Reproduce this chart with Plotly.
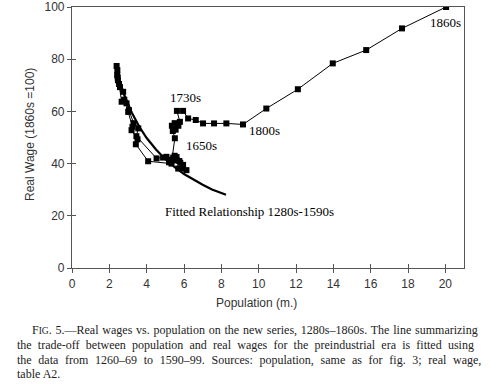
import plotly.graph_objects as go

# Decades 1280s-1860s: population (millions) and real wage (1860s = 100)
decades = [f"{y}s" for y in range(1280, 1870, 10)]
population = [
    5.69, 5.95, 6.13, 5.80, 5.42, 5.62, 5.33, 4.08, 3.42, 3.51,
    3.19, 3.24, 3.01, 2.74, 2.57, 2.46, 2.42, 2.39, 2.43, 2.45,
    2.52, 2.66, 2.80, 2.92, 3.05, 3.30, 3.55, 3.45, 4.53, 4.88,
    5.06, 5.20,
    5.50, 5.75, 5.95, 5.60, 5.35, 5.51, 5.40, 5.35, 5.50, 5.42,
    5.55, 5.70, 5.78, 5.62, 5.95, 6.22, 6.63, 7.02, 7.61, 8.27,
    9.16, 10.41, 12.10, 13.97, 15.76, 17.68, 20.04,
]
real_wage = [
    38.1, 38.1, 37.5, 40.3, 42.3, 41.2, 40.0, 40.9, 47.4, 49.3,
    52.8, 54.1, 59.8, 67.5, 69.3, 71.9, 73.9, 77.4, 75.8, 73.0,
    70.5, 63.7, 64.5, 63.1, 60.5, 55.5, 53.5, 50.5, 42.0, 42.3,
    42.6, 40.5,
    43.0, 41.0, 39.5, 42.5, 41.5, 49.7, 52.5, 54.5, 55.5, 53.5,
    53.0, 54.5, 56.0, 60.2, 60.2, 57.3, 56.7, 55.4, 55.4, 55.4,
    55.0, 61.1, 68.5, 78.4, 83.5, 91.8, 100.0,
]

# Fitted relationship 1280s-1590s
fit_population = [2.35, 2.8, 3.2, 3.6, 4.0, 4.5, 5.0, 5.5, 6.0, 6.5, 7.0, 7.5, 8.25]
fit_wage = [76.0, 66.3, 59.6, 54.2, 49.8, 45.4, 41.7, 38.6, 36.0, 33.8, 31.9, 30.1, 28.1]

x_ticks = list(range(0, 21, 2))
y_ticks = list(range(0, 101, 20))

caption_lines = [
    "F<span style='font-size:9.5px'>IG</span>. 5.—Real wages vs. population on the new series, 1280s–1860s. The line summarizing",
    "the trade-off between population and real wages for the preindustrial era is fitted using",
    "the data from 1260–69 to 1590–99. Sources: population, same as for fig. 3; real wage,",
    "table A2.",
]
caption_word_spacing = [0.8, 3.2, 3.7, 0]

SERIF = "Liberation Serif, Times New Roman, serif"
SANS = "Liberation Sans, Arial, sans-serif"

W, H = 500, 384
L, R, T, B = 72, 36, 7, 116
PW, PH = W - L - R, H - T - B


def px_to_paper(px, py):
    return (px - L) / PW, (H - B - py) / PH


fig = go.Figure()
fig.add_trace(go.Scatter(
    x=fit_population, y=fit_wage, mode="lines",
    line=dict(color="black", width=2.2), hoverinfo="skip", showlegend=False,
))
fig.add_trace(go.Scatter(
    x=population, y=real_wage, mode="lines+markers", text=decades,
    line=dict(color="black", width=1),
    marker=dict(symbol="square", size=6, color="black"),
    showlegend=False,
))
# invisible trace for the overlay axes (inner half of crossing ticks)
fig.add_trace(go.Scatter(x=[None], y=[None], xaxis="x2", yaxis="y2", showlegend=False))

tick_common = dict(showgrid=False, zeroline=False, tickcolor="#555", tickwidth=1,
                   ticklen=4, automargin=False)

fig.update_layout(
    width=W, height=H,
    margin=dict(l=L, r=R, t=T, b=B, autoexpand=False),
    plot_bgcolor="white", paper_bgcolor="white",
    xaxis=dict(range=[0, 21], tickvals=x_ticks, ticks="outside", mirror=True, showline=True,
               linecolor="#555", linewidth=1.2,
               tickfont=dict(family=SANS, size=12, color="#333"), **tick_common),
    yaxis=dict(range=[0, 100], tickvals=y_ticks, ticks="outside", mirror=True, showline=True,
               linecolor="#555", linewidth=1.2,
               tickfont=dict(family=SANS, size=12, color="#333"), **tick_common),
    xaxis2=dict(range=[0, 21], tickvals=x_ticks, ticks="inside", overlaying="x", anchor="y2",
                showticklabels=False, showline=False, **tick_common),
    yaxis2=dict(range=[0, 100], tickvals=y_ticks, ticks="inside", overlaying="y", anchor="x2",
                showticklabels=False, showline=False, **tick_common),
)

labels = [
    dict(x=6.1, y=65.5, text="1730s", xanchor="center"),
    dict(x=6.0, y=47.0, text="1650s", xanchor="left"),
    dict(x=9.35, y=52.6, text="1800s", xanchor="left"),
    dict(x=20.92, y=94.2, text="1860s", xanchor="right"),
    dict(x=4.85, y=21.7, text="Fitted Relationship 1280s-1590s", xanchor="left"),
]
for lab in labels:
    fig.add_annotation(x=lab["x"], y=lab["y"], xref="x", yref="y", text=lab["text"],
                       xanchor=lab["xanchor"], yanchor="middle", showarrow=False,
                       font=dict(family=SERIF, size=13, color="black"))

# axis titles
ax, ay = px_to_paper(256, 303)
fig.add_annotation(x=ax, y=ay, xref="paper", yref="paper", text="Population (m.)",
                   showarrow=False, xanchor="center", yanchor="middle",
                   font=dict(family=SANS, size=12, color="#333"))
ax, ay = px_to_paper(30, 135)
fig.add_annotation(x=ax, y=ay, xref="paper", yref="paper", text="Real Wage (1860s =100)",
                   showarrow=False, xanchor="center", yanchor="middle", textangle=-90,
                   font=dict(family=SANS, size=12, color="#333"))

caption_y = [330, 345, 359.5, 374]
caption_x = [30, 15, 15, 15]
for txt, py, px, ws in zip(caption_lines, caption_y, caption_x, caption_word_spacing):
    cx, cy = px_to_paper(px, py)
    fig.add_annotation(x=cx, y=cy, xref="paper", yref="paper",
                       text=f"<span style='word-spacing:{ws}px'>{txt}</span>",
                       xanchor="left", yanchor="middle", showarrow=False,
                       font=dict(family=SERIF, size=12, color="#222"))

fig.write_html("out.html", config={"displayModeBar": False},
               post_script="document.body.style.margin='0';")
